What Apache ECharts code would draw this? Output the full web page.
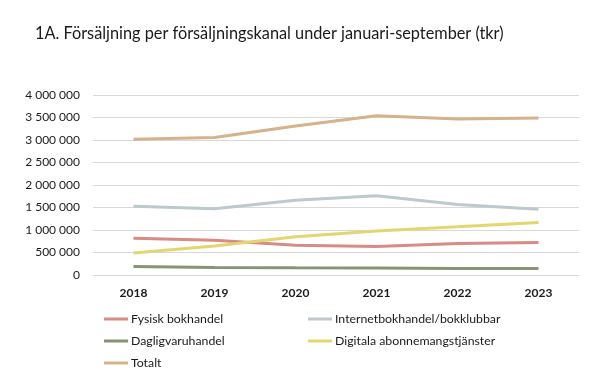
<!DOCTYPE html>
<html><head><meta charset="utf-8">
<script src="https://cdn.jsdelivr.net/npm/echarts@6/dist/echarts.min.js"></script>
<style>html,body{margin:0;padding:0;background:#fff}#c{width:594px;height:381px}</style>
</head><body><div id="c"></div>
<script>
const categories = ['2018','2019','2020','2021','2022','2023'];
const fysisk = [817000, 772000, 660000, 632000, 699000, 721000];
const internet = [1529000, 1470000, 1660000, 1760000, 1567000, 1462000];
const dagligvaru = [187000, 165000, 160000, 156000, 142000, 142000];
const digitala = [490000, 645000, 850000, 980000, 1070000, 1166000];
const totalt = [3014000, 3058000, 3310000, 3540000, 3466000, 3488000];
const seriesNames = ['Fysisk bokhandel','Internetbokhandel/bokklubbar','Dagligvaruhandel','Digitala abonnemangstjänster','Totalt'];
const colors = ['#d98a82','#bccacd','#879474','#e3d56f','#d7b08c'];
const seriesData = [fysisk, internet, dagligvaru, digitala, totalt];

const font = 'Lato';
const legendPos = [[99,308],[303,308],[99,330],[303,330],[99,352]];
const chart = echarts.init(document.getElementById('c'));
chart.setOption({
  animation:false,
  textStyle:{fontFamily:font},
  title:{text:'1A. Försäljning per försäljningskanal under januari-september (tkr)',left:30,top:21,
    textStyle:{fontFamily:font,fontSize:16.3,fontWeight:'normal',color:'#1a1a1a'}},
  grid:{left:93,right:15,top:95,bottom:106},
  legend: seriesNames.map((n,i)=>({data:[n],left:legendPos[i][0],top:legendPos[i][1],
    itemWidth:24,itemHeight:3,itemGap:0,icon:'rect',
    textStyle:{fontFamily:font,fontSize:12.3,color:'#1a1a1a',padding:[0,0,0,-2]}})),
  xAxis:{type:'category',data:categories,boundaryGap:true,
    axisLine:{show:false},axisTick:{show:false},
    axisLabel:{fontFamily:font,fontSize:12,color:'#1a1a1a',margin:12,fontWeight:'bold'}},
  yAxis:{type:'value',min:0,max:4000000,interval:500000,
    axisLine:{show:false},axisTick:{show:false},
    splitLine:{lineStyle:{color:'#d9d9d9',width:1}},
    axisLabel:{fontFamily:font,fontSize:12,color:'#1a1a1a',margin:13,
      formatter:v=>String(v).replace(/\B(?=(\d{3})+(?!\d))/g,' ')}},
  series: seriesNames.map((n,i)=>({name:n,type:'line',data:seriesData[i],
    showSymbol:false,symbol:'none',lineStyle:{width:3,color:colors[i]},itemStyle:{color:colors[i]}}))
});
</script></body></html>
